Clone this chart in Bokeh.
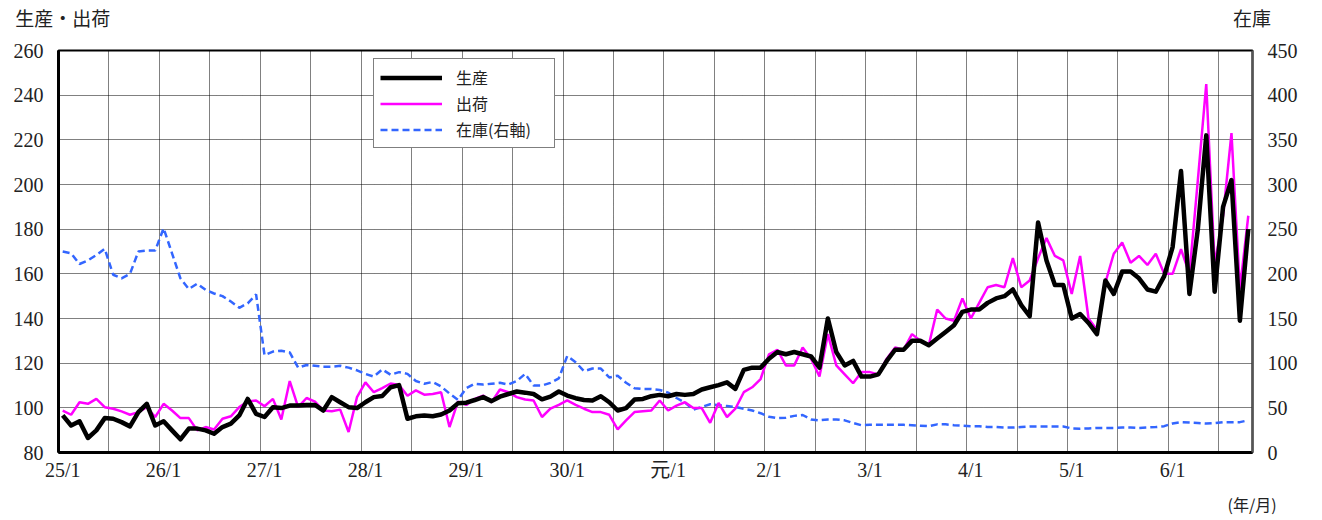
from bokeh.plotting import figure
from bokeh.models import (Range1d, LinearAxis, FixedTicker, Legend, LegendItem,
                          ColumnDataSource)
from bokeh.embed import file_html
from bokeh.resources import INLINE

# ---------------- data ----------------
tick_labels = ["25/1", "26/1", "27/1", "28/1", "29/1", "30/1", "元/1",
               "2/1", "3/1", "4/1", "5/1", "6/1"]

production = [
    96.6, 92.1, 94.0, 86.5, 89.9, 95.4, 95.1, 93.6, 91.7, 98.1, 101.8, 92.1,
    94.0, 89.9, 85.9, 90.7, 90.7, 89.9, 88.4, 91.4, 92.9, 96.6, 104.0, 97.3,
    95.9, 100.3, 99.9, 101.0, 101.0, 101.3, 101.3, 98.8, 104.8, 102.5, 100.3, 99.9,
    102.5, 104.8, 105.3, 109.2, 110.2, 95.1, 96.2, 96.6, 96.2, 97.0, 98.8, 102.0,
    102.3, 103.5, 104.8, 103.0, 105.0, 106.2, 107.3, 106.8, 106.2, 103.8, 105.0, 107.3,
    105.5, 104.3, 103.5, 103.3, 105.2, 102.5, 98.8, 99.9, 103.7, 104.0, 105.2, 105.8,
    105.2, 106.2, 105.8, 106.2, 108.2, 109.2, 110.2, 111.4, 108.5, 117.0, 118.0, 118.0,
    122, 125, 124, 125, 124, 123, 118, 140, 125, 119, 121, 114,
    114, 115, 121, 126, 126, 130, 130, 128, 131, 134, 137, 143,
    144, 144, 147, 149, 150, 153, 146, 141, 183, 166, 155, 155,
    140, 142, 138, 133, 157, 151, 161, 161, 158, 153, 152, 159,
    172, 206, 151, 180, 222, 152, 190, 202, 139, 180,
]

shipments = [
    98.8, 96.9, 102.5, 101.8, 104.0, 100.3, 99.6, 98.4, 96.9, 98.1, 100.3, 95.9,
    101.8, 98.8, 95.4, 95.4, 89.9, 91.4, 90.3, 95.1, 96.2, 100.3, 102.8, 103.3,
    100.7, 104.0, 94.8, 112.0, 100.3, 104.4, 102.8, 98.8, 98.5, 99.2, 89.2, 104.8,
    111.4, 107.0, 108.8, 110.9, 110.2, 105.4, 107.8, 105.9, 106.2, 107.0, 91.4, 102.8,
    101.3, 104.0, 105.5, 102.5, 108.2, 107.0, 104.8, 103.7, 103.3, 95.9, 99.6, 101.3,
    103.3, 101.3, 99.6, 98.1, 98.1, 96.9, 90.4, 94.4, 98.1, 98.5, 98.8, 103.3,
    98.8, 101.0, 102.5, 99.9, 99.9, 93.3, 102.2, 95.9, 99.6, 107.0, 109.2, 112.9,
    124, 126, 119, 119, 127, 122, 114, 133, 119, 115, 111, 116,
    116, 115, 122, 127, 126, 133, 130, 128, 144, 140, 139, 149,
    140, 147, 154, 155, 154, 167, 154, 157, 167, 176, 168, 166,
    151, 168, 140, 135, 156, 169, 174, 165, 168, 164, 169, 160,
    160, 171, 160, 202, 245, 164, 186, 223, 153, 186,
]

inventory = [
    225, 223, 211, 215, 221, 228, 199, 195, 200, 225, 226, 226,
    251, 223, 195, 183, 189, 182, 178, 175, 169, 162, 167, 177,
    109, 113, 114, 112, 95, 98, 97, 96, 96, 97, 95, 92,
    88, 85, 93, 87, 90, 88, 80, 77, 79, 74, 66, 59,
    72, 77, 76, 77, 78, 76, 80, 88, 75, 75, 78, 83,
    108, 101, 91, 94, 94, 84, 86, 78, 72, 71, 71, 70,
    67, 61, 56, 48, 51, 54, 53, 52, 51, 49, 47, 44,
    40, 38.5, 39, 41, 42, 37, 36, 37, 37, 36, 33, 30.5,
    31, 31, 31, 31, 31, 30.5, 30, 29.5, 31.5, 31.5, 30.5, 30,
    29.5, 29.5, 28.5, 28.5, 28, 28, 28.5, 29, 29, 29, 29, 29,
    27, 26.6, 27, 27.5, 27.5, 27.5, 28, 28, 27.5, 28, 28.5, 29.5,
    32.5, 34, 33.5, 33, 32.5, 33, 34, 34, 34, 36,
]

# axis captions
left_caption = "生産・出荷"
right_caption = "在庫"
x_caption = "(年/月)"

months = list(range(len(production)))
source = ColumnDataSource(data=dict(m=months, prod=production,
                                    ship=shipments, inv=inventory))

# ---------------- figure ----------------
SERIF = "'Liberation Serif', 'Noto Sans CJK JP'"
JP = "Noto Sans CJK JP"
TXT = "#222222"

x_end = len(months) - 0.5
p = figure(width=1320, height=518, output_backend="svg", toolbar_location=None,
           x_range=Range1d(-0.5, x_end), y_range=Range1d(80, 260),
           min_border_left=58, min_border_right=68, min_border_top=49,
           min_border_bottom=64)
p.background_fill_color = "white"
p.border_fill_color = "white"
p.outline_line_color = "black"
p.outline_line_width = 2

p.extra_y_ranges = {"inv": Range1d(0, 450)}


def plain(ax, font, size, standoff):
    ax.major_tick_line_color = None
    ax.minor_tick_line_color = None
    ax.major_tick_out = 0
    ax.major_tick_in = 0
    ax.minor_tick_out = 0
    ax.major_label_text_font = font
    ax.major_label_text_font_size = size
    ax.major_label_text_color = TXT
    ax.major_label_standoff = standoff


# x axis
p.xaxis.ticker = FixedTicker(ticks=[12 * k for k in range(len(tick_labels))])
p.xaxis.major_label_overrides = {12 * k: t for k, t in enumerate(tick_labels)}
p.xaxis.axis_line_width = 3
p.xaxis.axis_line_color = "black"
plain(p.xaxis[0], SERIF, "20px", 6)

# left y axis
p.yaxis.ticker = FixedTicker(ticks=list(range(80, 261, 20)))
p.yaxis.axis_line_width = 3
p.yaxis.axis_line_color = "black"
plain(p.yaxis[0], SERIF, "20px", 15)

# right y axis (inventory)
raxis = LinearAxis(y_range_name="inv", ticker=FixedTicker(ticks=list(range(0, 451, 50))))
raxis.axis_line_color = "#555555"
raxis.axis_line_width = 2
plain(raxis, SERIF, "20px", 15)
p.add_layout(raxis, "right")

# captions above the frame, carried by an axis with no line
top_ticks = [0, x_end - 0.05]
cap_axis = LinearAxis(ticker=FixedTicker(ticks=top_ticks),
                      major_label_overrides={top_ticks[0]: left_caption,
                                             top_ticks[1]: right_caption})
cap_axis.axis_line_color = None
plain(cap_axis, JP, "19px", 20)
p.add_layout(cap_axis, "above")

# unit caption below the month labels
unit_tick = x_end - 0.05
unit_axis = LinearAxis(ticker=FixedTicker(ticks=[unit_tick]),
                       major_label_overrides={unit_tick: x_caption})
unit_axis.axis_line_color = None
plain(unit_axis, JP, "16px", 8)
p.add_layout(unit_axis, "below")

# grids
p.xgrid.ticker = FixedTicker(ticks=[6 * k - 0.5 for k in range(1, 24)])
p.ygrid.ticker = FixedTicker(ticks=list(range(100, 260, 20)))
for g in (p.xgrid, p.ygrid):
    g.grid_line_color = "black"
    g.grid_line_dash = "1 1"
    g.grid_line_width = 1
    g.grid_line_alpha = 1.0

# lines
r_inv = p.line("m", "inv", source=source, y_range_name="inv", line_color="#3366ff",
               line_width=2.5, line_dash="7 4")
r_ship = p.line("m", "ship", source=source, line_color="#ff00ff", line_width=2.5)
r_prod = p.line("m", "prod", source=source, line_color="black", line_width=4.5,
                line_join="round")

legend = Legend(items=[LegendItem(label="生産", renderers=[r_prod]),
                       LegendItem(label="出荷", renderers=[r_ship]),
                       LegendItem(label="在庫(右軸)", renderers=[r_inv])],
                location=(315, 304))
legend.border_line_color = "black"
legend.border_line_width = 1
legend.background_fill_alpha = 1
legend.label_text_font = JP
legend.label_text_font_size = "16px"
legend.label_text_color = TXT
legend.glyph_width = 62
legend.glyph_height = 21
legend.label_height = 21
legend.label_width = 92
legend.label_standoff = 14
legend.spacing = 2
legend.padding = 6
legend.margin = 0
p.add_layout(legend)

open("out.html", "w").write(file_html(p, INLINE))
